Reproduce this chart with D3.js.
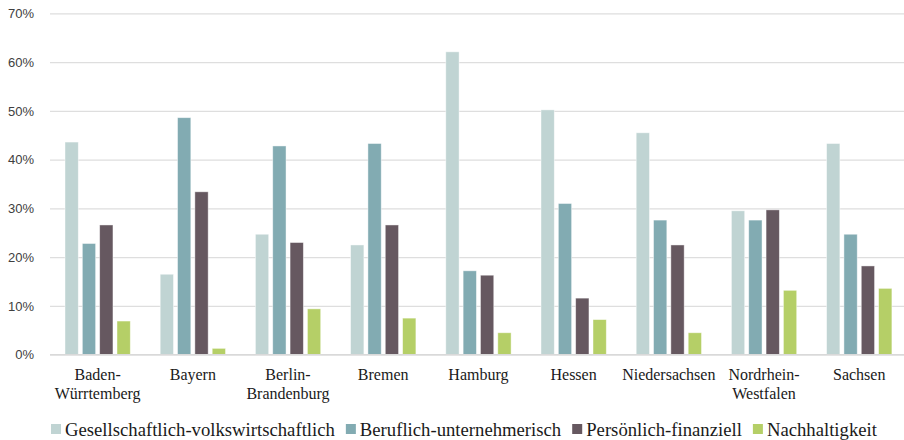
<!DOCTYPE html>
<html>
<head>
<meta charset="utf-8">
<script src="https://cdn.jsdelivr.net/npm/d3@7"></script>
<style>
  html, body { margin: 0; padding: 0; background: #fff; }
  svg { display: block; }
</style>
</head>
<body>
<svg id="chart" width="904" height="440"></svg>
<script>
// Federal states (line breaks within a label are marked with "\n")
const categories = [
  "Baden-\nWürrtemberg", "Bayern", "Berlin-\nBrandenburg", "Bremen", "Hamburg",
  "Hessen", "Niedersachsen", "Nordrhein-\nWestfalen", "Sachsen"
];
const seriesNames = [
  "Gesellschaftlich-volkswirtschaftlich",
  "Beruflich-unternehmerisch",
  "Persönlich-finanziell",
  "Nachhaltigkeit"
];
// Shares per state, in percent
const gesellschaftlich = [43.6, 16.5, 24.7, 22.5, 62.1, 50.2, 45.5, 29.5, 43.3];
const beruflich        = [22.8, 48.6, 42.8, 43.3, 17.2, 31.0, 27.6, 27.6, 24.7];
const persoenlich      = [26.6, 33.4, 23.0, 26.6, 16.3, 11.6, 22.5, 29.7, 18.2];
const nachhaltigkeit   = [ 6.9,  1.3,  9.4,  7.5,  4.5,  7.2,  4.5, 13.2, 13.6];
const yTicks = [0, 10, 20, 30, 40, 50, 60, 70];
const colors = ["#c0d4d3", "#82abb2", "#665860", "#b5cf67"];

const seriesValues = [gesellschaftlich, beruflich, persoenlich, nachhaltigkeit];

const SERIF = '"Liberation Serif", "Times New Roman", serif';
const SANS = '"Liberation Sans", Arial, sans-serif';

const svg = d3.select("#chart");
const plot = { left: 50, right: 906.8, top: 13.3, bottom: 354.7 };

const x0 = d3.scaleBand().domain(categories).range([plot.left, plot.right]).padding(0);
const bw = x0.bandwidth();
const x1 = d3.scaleBand().domain(seriesNames)
  .range([bw * 0.1575, bw * 0.8435]).paddingInner(0.233).paddingOuter(0);
const y = d3.scaleLinear().domain([0, 70]).range([plot.bottom, plot.top]);
const color = d3.scaleOrdinal().domain(seriesNames).range(colors);

// Horizontal gridlines with percent labels
const yAxis = d3.axisLeft(y).tickValues(yTicks).tickFormat(d => d + "%").tickSize(0).tickPadding(0);
const gy = svg.append("g").attr("transform", `translate(${plot.left},0)`).call(yAxis);
gy.select(".domain").remove();
gy.selectAll(".tick line").attr("x2", plot.right - plot.left).attr("stroke", "#dedede").attr("stroke-width", 1.2);
gy.selectAll(".tick text")
  .attr("x", -16)
  .style("font-family", SANS)
  .style("font-size", "13px")
  .attr("fill", "#404040");

// Bars
const groups = svg.append("g").selectAll("g")
  .data(categories)
  .join("g")
  .attr("transform", d => `translate(${x0(d)},0)`);

groups.selectAll("rect")
  .data((d, i) => seriesNames.map((s, k) => ({ series: s, value: seriesValues[k][i] })))
  .join("rect")
  .attr("x", d => x1(d.series))
  .attr("width", x1.bandwidth())
  .attr("y", d => y(d.value))
  .attr("height", d => y(0) - y(d.value))
  .attr("fill", d => color(d.series))
  .attr("stroke", "#ffffff")
  .attr("stroke-opacity", 0.55)
  .attr("stroke-width", 0.8);

// Baseline
svg.append("line")
  .attr("x1", plot.left).attr("x2", plot.right)
  .attr("y1", y(0)).attr("y2", y(0))
  .attr("stroke", "#d9d9d9").attr("stroke-width", 1.2);

// Category labels
const xAxis = d3.axisBottom(x0).tickSize(0).tickFormat("");
const gx = svg.append("g").attr("transform", `translate(0,${plot.bottom})`).call(xAxis);
gx.select(".domain").remove();
gx.selectAll(".tick").each(function(d) {
  const t = d3.select(this).append("text")
    .attr("text-anchor", "middle")
    .style("font-family", SERIF)
    .style("font-size", "16px")
    .attr("fill", "#1a1a1a");
  d.split("\n").forEach((line, i) => {
    t.append("tspan").attr("x", 0).attr("y", 25 + i * 19).text(line);
  });
});

// Legend
const legend = svg.append("g").attr("transform", "translate(51,429)");
let lx = 0;
seriesNames.forEach((s, i) => {
  const item = legend.append("g").attr("transform", `translate(${lx},0)`);
  item.append("rect").attr("x", 0).attr("y", -5).attr("width", 10).attr("height", 10).attr("fill", colors[i]);
  const txt = item.append("text")
    .attr("x", 14)
    .attr("dy", "0.35em")
    .style("font-family", SERIF)
    .style("font-size", "18.7px")
    .attr("fill", "#1a1a1a")
    .text(s);
  lx += 14 + txt.node().getComputedTextLength() + 11;
});
</script>
</body>
</html>
